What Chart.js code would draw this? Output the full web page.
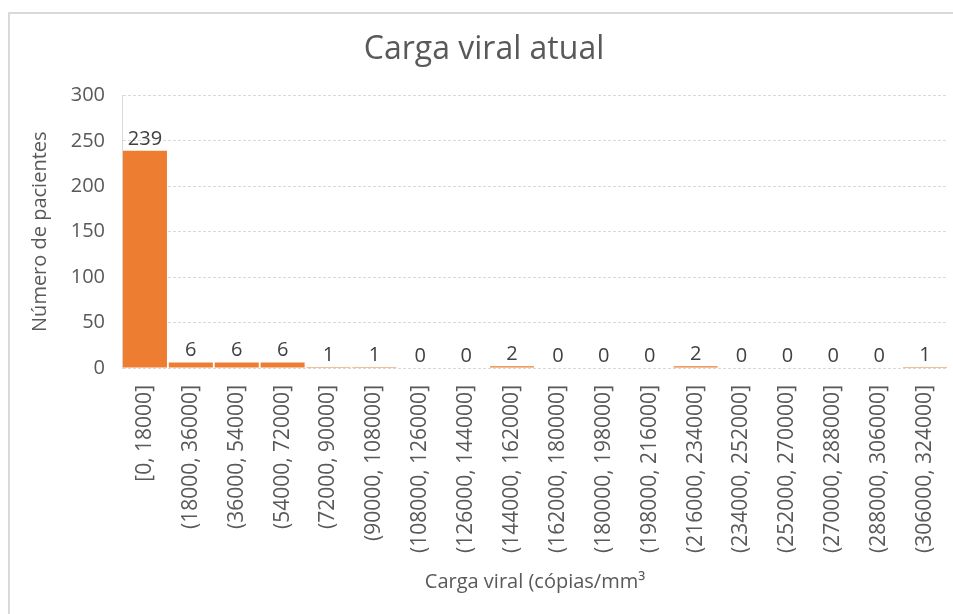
<!DOCTYPE html>
<html>
<head>
<meta charset="utf-8">
<script src="https://cdn.jsdelivr.net/npm/chart.js@4.4.1/dist/chart.umd.min.js"></script>
<style>
  html, body { margin: 0; padding: 0; background: #fff; }
  #wrap { position: relative; width: 953px; height: 614px; }
</style>
</head>
<body>
<div id="wrap"><canvas id="mychart" width="953" height="614"></canvas></div>
<script>
// bins of viral load
const categories = [
    '[0, 18000]', '(18000, 36000]', '(36000, 54000]', '(54000, 72000]',
    '(72000, 90000]', '(90000, 108000]', '(108000, 126000]', '(126000, 144000]',
    '(144000, 162000]', '(162000, 180000]', '(180000, 198000]', '(198000, 216000]',
    '(216000, 234000]', '(234000, 252000]', '(252000, 270000]', '(270000, 288000]',
    '(288000, 306000]', '(306000, 324000]'
];
const patients = [239, 6, 6, 6, 1, 1, 0, 0, 2, 0, 0, 0, 2, 0, 0, 0, 0, 1];
const yTicks = [0, 50, 100, 150, 200, 250, 300];

const fontFamily = "'Open Sans', 'Noto Sans', sans-serif";
const textGray = '#595959';
const gridGray = '#d9d9d9';

/**
 * Outer frame of the chart (light gray line on left and top)
 */
const framePlugin = {
    id: 'frame',
    beforeDraw(chart) {
        const ctx = chart.ctx;
        ctx.save();
        ctx.fillStyle = '#fff';
        ctx.fillRect(0, 0, chart.width, chart.height);
        ctx.strokeStyle = gridGray;
        ctx.lineWidth = 2;
        ctx.strokeRect(9, 13, chart.width + 20, chart.height + 20);
        ctx.restore();
    }
};

/**
 * Value labels above every bar
 */
const barLabels = {
    id: 'barLabels',
    afterDatasetsDraw(chart) {
        const ctx = chart.ctx;
        const meta = chart.getDatasetMeta(0);
        ctx.save();
        ctx.font = '20px ' + fontFamily;
        ctx.fillStyle = '#404040';
        ctx.textAlign = 'center';
        ctx.textBaseline = 'bottom';
        meta.data.forEach((bar, i) => {
            ctx.fillText(String(patients[i]), bar.x, bar.y - 2);
        });
        ctx.restore();
    }
};

const ctx = document.getElementById('mychart').getContext('2d');

let mychart = new Chart(ctx, {
    type: 'bar',
    data: {
        labels: categories,
        datasets: [{
            data: patients,
            backgroundColor: '#ED7D31',
            barPercentage: 0.96,
            categoryPercentage: 1.0
        }]
    },
    options: {
        responsive: false,
        animation: false,
        layout: { padding: { left: 20, right: 5, top: 0, bottom: 0 } },
        plugins: {
            legend: { display: false },
            tooltip: { enabled: false },
            title: {
                display: true,
                text: 'Carga viral atual',
                color: textGray,
                font: { family: fontFamily, size: 32, weight: 'normal' },
                padding: { top: 31, bottom: 26 }
            }
        },
        scales: {
            x: {
                grid: { display: false, drawTicks: false },
                border: { display: false },
                ticks: {
                    color: textGray,
                    font: { family: fontFamily, size: 21 },
                    minRotation: 90,
                    maxRotation: 90,
                    autoSkip: false,
                    padding: 17
                },
                title: {
                    display: true,
                    text: 'Carga viral (cópias/mm³',
                    color: textGray,
                    font: { family: fontFamily, size: 20 },
                    padding: { top: 0, bottom: 20 }
                },
                afterFit(scale) {
                    scale.height = 246;
                    scale.paddingLeft = 0;
                    scale.paddingRight = 0;
                }
            },
            y: {
                min: 0,
                max: 300,
                grid: { color: gridGray, lineWidth: 1, drawTicks: false },
                border: { display: true, color: gridGray, width: 1, dash: [3, 2] },
                ticks: {
                    stepSize: 50,
                    color: textGray,
                    font: { family: fontFamily, size: 20 },
                    padding: 17,
                    callback: (v) => yTicks.includes(v) ? v : null
                },
                title: {
                    display: true,
                    text: 'Número de pacientes',
                    color: textGray,
                    font: { family: fontFamily, size: 20 },
                    padding: { top: 8, bottom: 0 }
                },
                afterFit(scale) {
                    scale.width = 102;
                    scale.paddingTop = 0;
                    scale.paddingBottom = 0;
                }
            }
        }
    },
    plugins: [framePlugin, barLabels]
});
</script>
</body>
</html>
